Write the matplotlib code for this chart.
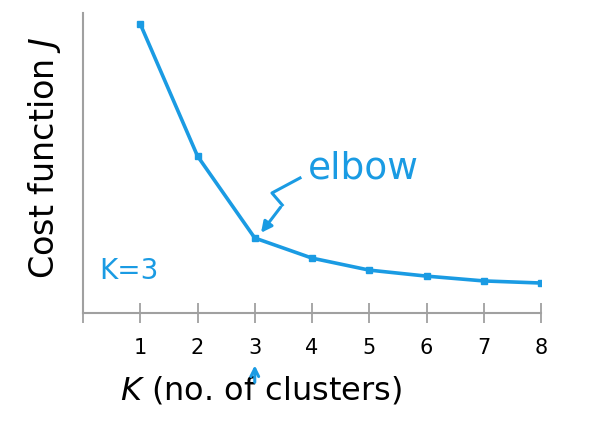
import matplotlib
matplotlib.use("Agg")
import matplotlib.pyplot as plt

# data
k_vals = [1, 2, 3, 4, 5, 6, 7, 8]
cost = [0.963, 0.523, 0.25, 0.183, 0.143, 0.123, 0.107, 0.10]
tick_labels = ["1", "2", "3", "4", "5", "6", "7", "8"]

blue = "#1a9be3"
grey = "#a0a0a0"

fig = plt.figure(figsize=(5.99, 4.30), dpi=100)
ax = fig.add_axes([0.1386, 0.272, 0.7646, 0.698])

ax.plot(k_vals, cost, color=blue, lw=2.6, marker="s", ms=4, solid_capstyle="round")

ax.set_xlim(0, 8)
ax.set_ylim(0, 1)
ax.set_xticks([0] + k_vals)
ax.set_xticklabels([""] + tick_labels, fontsize=15)
ax.set_yticks([])
ax.tick_params(axis="x", direction="inout", length=14, width=1.3, color=grey, pad=11)
for s in ["top", "right"]:
    ax.spines[s].set_visible(False)
for s in ["left", "bottom"]:
    ax.spines[s].set_color(grey)
    ax.spines[s].set_linewidth(1.5)

ax.set_ylabel("Cost function $J$", fontsize=24)
ax.yaxis.set_label_coords(-0.043, 0.517)
ax.set_xlabel("$K$ (no. of clusters)", fontsize=23)
ax.xaxis.set_label_coords(0.389, -0.205)

# handwritten notes
ax.text(0.49, 0.483, "elbow", color=blue, fontsize=27,
        transform=ax.transAxes, ha="left", va="center")
ax.plot([3.79, 3.30, 3.48], [0.45, 0.40, 0.36], color=blue, lw=2.2)
ax.annotate("", xy=(3.08, 0.26), xytext=(3.48, 0.36),
            arrowprops=dict(arrowstyle="-|>", color=blue, lw=2.2, mutation_scale=16))
ax.text(0.28, 0.14, "K=3", color=blue, fontsize=20, ha="left", va="center")
ax.annotate("", xy=(3.0, -0.165), xytext=(3.0, -0.24), annotation_clip=False,
            arrowprops=dict(arrowstyle="->", color=blue, lw=2.2, mutation_scale=14),
            zorder=5)

fig.savefig("out.png", dpi=100)
